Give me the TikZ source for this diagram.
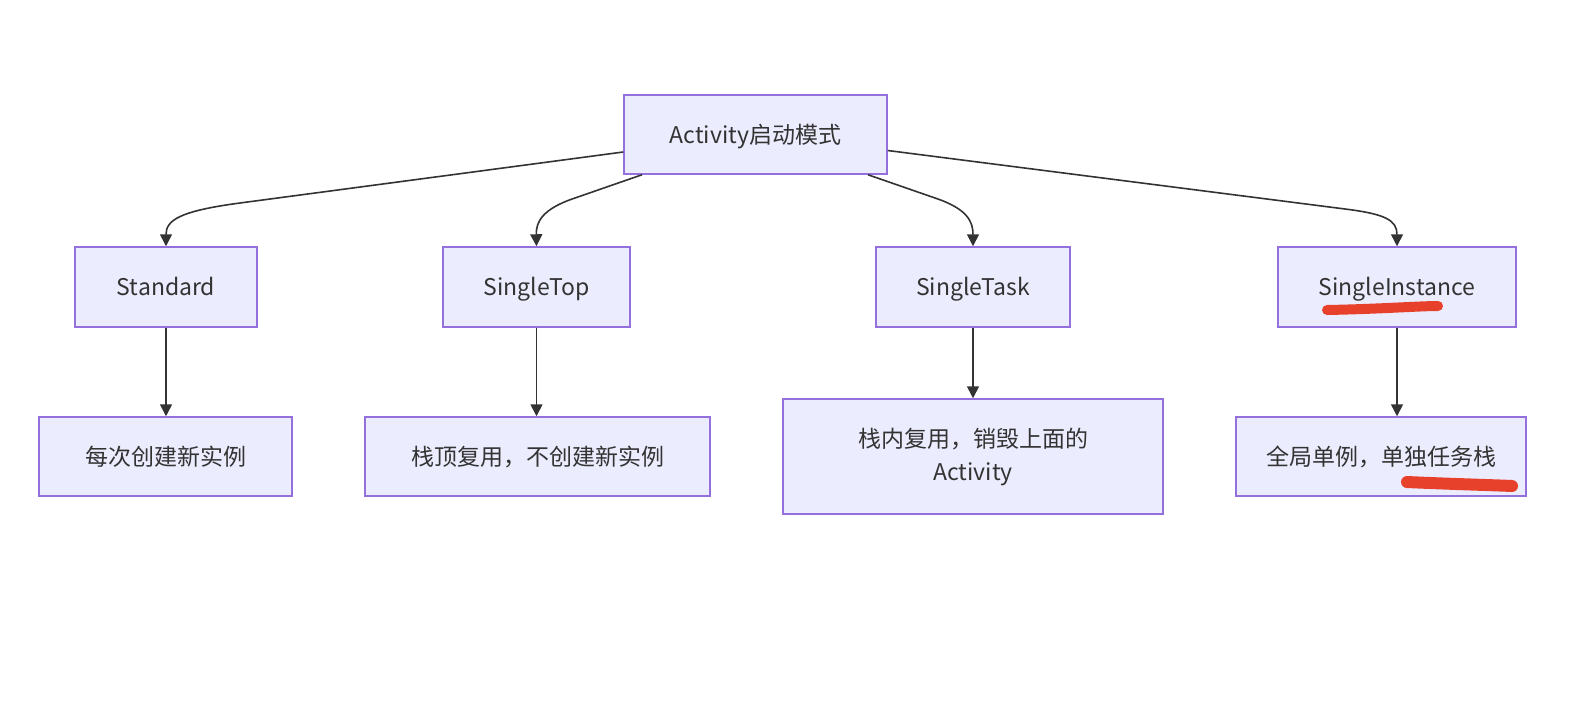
\documentclass[tikz,border=0pt]{standalone}
\usepackage{fontspec}
\setmainfont{Noto Sans CJK SC}
\usetikzlibrary{arrows.meta}
\definecolor{boxfill}{HTML}{ECECFF}
\definecolor{boxline}{HTML}{9370DB}
\definecolor{edge}{HTML}{333333}
\definecolor{mark}{HTML}{E8412B}
\tikzset{
  box/.style={draw=boxline, fill=boxfill, line width=1.5pt, inner sep=0pt,
    text=edge, align=center, font=\fontsize{23}{33}\selectfont},
  one/.style={text height=17.4pt, text depth=0pt},
  arr/.style={draw=edge, line width=1.6pt, -{Triangle[width=12pt,length=12pt]}},
  hl/.style={draw=mark, line cap=round}
}
\begin{document}
\begin{tikzpicture}[x=1pt,y=-1pt]
\path[use as bounding box] (0,0) rectangle (1584,718);
\node[box, one, minimum width=263pt, minimum height=79pt] (top) at (755.5,134.5) {Activity启动模式};
\node[box, one, minimum width=182pt, minimum height=80pt] (std) at (166,287) {Standard};
\node[box, one, minimum width=187pt, minimum height=80pt] (stop) at (536.5,287) {SingleTop};
\node[box, one, minimum width=194pt, minimum height=80pt] (stask) at (973,287) {SingleTask};
\node[box, one, minimum width=238pt, minimum height=80pt] (sinst) at (1397,287) {SingleInstance};
\node[box, one, minimum width=253pt, minimum height=79pt] (b1) at (165.5,456.5) {每次创建新实例};
\node[box, one, minimum width=345pt, minimum height=79pt] (b2) at (537.5,456.5) {栈顶复用，不创建新实例};
\node[box, minimum width=380pt, minimum height=115pt] (b3) at (973,456.5) {\raisebox{-7pt}{\parbox{360pt}{\centering 栈内复用，销毁上面的\\Activity}}};
\node[box, one, minimum width=290pt, minimum height=79pt] (b4) at (1381,456.5) {全局单例，单独任务栈};
\coordinate (s1) at ([yshift=-17.5pt]top.west);
\coordinate (s2) at ([xshift=-113.5pt]top.south);
\coordinate (s3) at ([xshift=112.5pt]top.south);
\coordinate (s4) at ([yshift=-16pt]top.east);
\draw[arr] (s1) -- (240,203) .. controls (180,211) and (166,220) .. (std.north);
\draw[arr] (s2) -- (575,198) .. controls (542,209) and (536,222) .. (stop.north);
\draw[arr] (s3) -- (935,198) .. controls (968,209) and (973,222) .. (stask.north);
\draw[arr] (s4) -- (1345,209) .. controls (1385,214) and (1397,220) .. (sinst.north);
\draw[arr] (std.south) -- (std.south |- b1.north);
\draw[arr] (stop.south) -- (stop.south |- b2.north);
\draw[arr] (stask.south) -- (stask.south |- b3.north);
\draw[arr] (sinst.south) -- (sinst.south |- b4.north);
\draw[hl, line width=10pt] (1327,310) .. controls (1380,309) and (1420,306) .. (1438,306);
\draw[hl, line width=12pt] (1407,482) .. controls (1450,484) and (1490,485) .. (1512,486);
\end{tikzpicture}
\end{document}
